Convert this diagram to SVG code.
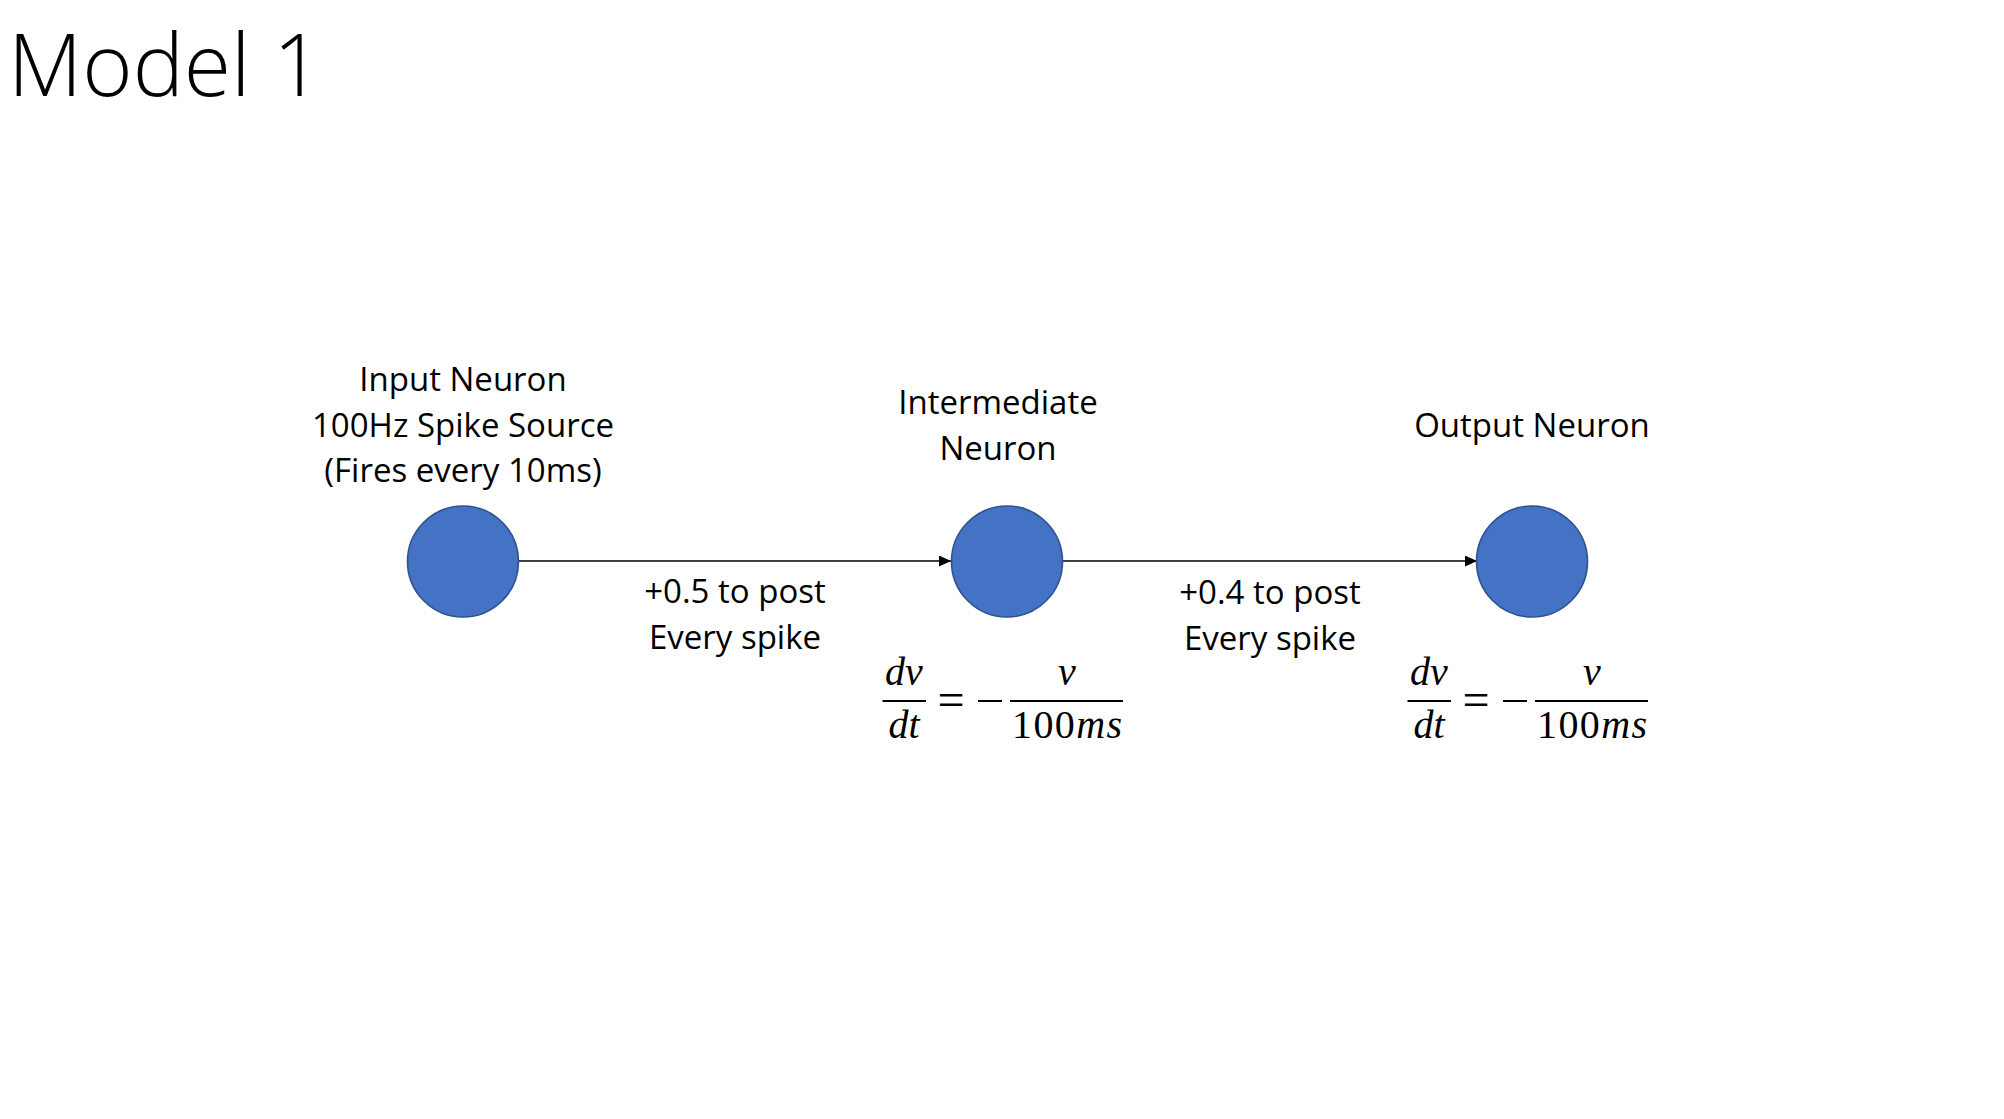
<svg xmlns="http://www.w3.org/2000/svg" width="2004" height="1119" viewBox="0 0 2004 1119">
<defs>
<style>
.lbl{font-family:"Open Sans","Lato",sans-serif;font-size:33px;fill:#000;text-anchor:middle}
.title{font-family:"Open Sans","Lato",sans-serif;font-weight:300;font-size:86px;fill:#000}
.node{fill:#4472C4;stroke:#2F528F;stroke-width:1.6}
.edge{stroke:#000;stroke-width:1.4;fill:none;marker-end:url(#arr)}
.m{font-family:"Liberation Serif","DejaVu Serif",serif;font-size:40px;fill:#000}
.mi{font-style:italic}
.eq{font-size:48px}
.bar{stroke:#000;stroke-width:2}
</style>
<marker id="arr" viewBox="0 0 10 10" refX="10" refY="5" markerWidth="12" markerHeight="11" markerUnits="userSpaceOnUse" orient="auto" preserveAspectRatio="none">
<path d="M0,0 L10,5 L0,10 Z" fill="#000"/>
</marker>
</defs>
<rect width="2004" height="1119" fill="#fff"/>
<text class="title" x="8" y="96">Model 1</text>
<g id="connectors">
<line class="edge" x1="519" y1="561" x2="951" y2="561"/>
<line class="edge" x1="1063" y1="561" x2="1477" y2="561"/>
<text class="lbl" x="735" y="603">+0.5 to post</text>
<text class="lbl" x="735" y="649">Every spike</text>
<text class="lbl" x="1270" y="604">+0.4 to post</text>
<text class="lbl" x="1270" y="650">Every spike</text>
</g>
<g id="input-neuron">
<text class="lbl" x="463" y="391">Input Neuron</text>
<text class="lbl" x="463" y="437">100Hz Spike Source</text>
<text class="lbl" x="463" y="482">(Fires every 10ms)</text>
<circle class="node" cx="463" cy="561.5" r="55.5"/>
</g>
<g id="intermediate-neuron">
<text class="lbl" x="998" y="414">Intermediate</text>
<text class="lbl" x="998" y="460">Neuron</text>
<circle class="node" cx="1007" cy="561.5" r="55.5"/>
<g class="m">
<text class="mi" x="904" y="685" text-anchor="middle">dv</text>
<line class="bar" x1="882.5" y1="701" x2="926" y2="701"/>
<text class="mi" x="904" y="738" text-anchor="middle">dt</text>
<text class="eq" x="951" y="716" text-anchor="middle">=</text>
<line class="bar" x1="978" y1="701" x2="1002" y2="701"/>
<text class="mi" x="1067" y="685" text-anchor="middle">v</text>
<line class="bar" x1="1010" y1="701" x2="1123" y2="701"/>
<text x="1067" y="738" text-anchor="middle" textLength="110" lengthAdjust="spacing">100<tspan class="mi">ms</tspan></text>
</g>
</g>
<g id="output-neuron">
<text class="lbl" x="1532" y="437">Output Neuron</text>
<circle class="node" cx="1532" cy="561.5" r="55.5"/>
<g class="m">
<text class="mi" x="1429" y="685" text-anchor="middle">dv</text>
<line class="bar" x1="1407.5" y1="701" x2="1451" y2="701"/>
<text class="mi" x="1429" y="738" text-anchor="middle">dt</text>
<text class="eq" x="1476" y="716" text-anchor="middle">=</text>
<line class="bar" x1="1503" y1="701" x2="1527" y2="701"/>
<text class="mi" x="1592" y="685" text-anchor="middle">v</text>
<line class="bar" x1="1535" y1="701" x2="1648" y2="701"/>
<text x="1592" y="738" text-anchor="middle" textLength="110" lengthAdjust="spacing">100<tspan class="mi">ms</tspan></text>
</g>
</g>
</svg>
